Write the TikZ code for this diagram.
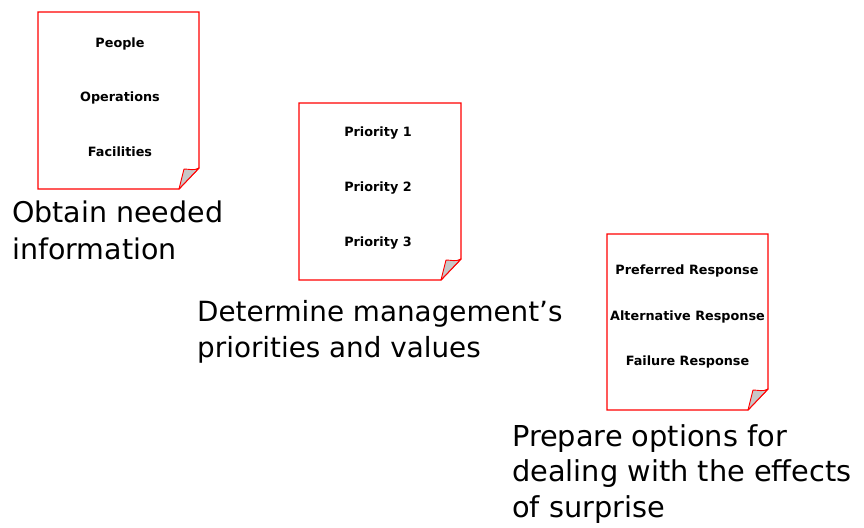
\documentclass[tikz,border=0pt]{standalone}
\usepackage{fontspec}
\setmainfont{DejaVu Sans}
\newcommand\pagesheet[4]{%
  \draw[sheet] (#1,#2) -- (#3,#2) -- (#3,#4-21) -- (#3-20,#4) -- (#1,#4) -- cycle;
  \draw[flap] (#3,#4-21) .. controls (#3-5,#4-18) and (#3-10,#4-20) .. (#3-15,#4-20) -- (#3-20,#4) -- cycle;
}
\begin{document}
\begin{tikzpicture}[x=1pt,y=-1pt,
  sheet/.style={draw=red, line width=1.2pt, fill=white, line join=miter},
  flap/.style={draw=red, line width=0.9pt, fill=black!22, line join=round},
  item/.style={font=\bfseries\fontsize{12.8}{15}\selectfont, inner sep=0},
  caption/.style={font=\fontsize{28.5}{36.5}\selectfont, align=left, anchor=north west, inner sep=0}]
\useasboundingbox (0,0) rectangle (864,527);
\fill[white] (0,0) rectangle (864,527);
% sheet 1
\pagesheet{38}{12}{199}{189}
\node[item] (people) at (120,44) {People};
\node[item] (operations) at (120,98) {Operations};
\node[item] (facilities) at (120,152) {Facilities};
% sheet 2
\pagesheet{299}{103}{461}{280}
\node[item] (p1) at (378,133) {Priority 1};
\node[item] (p2) at (378,188) {Priority 2};
\node[item] (p3) at (378,243) {Priority 3};
% sheet 3
\pagesheet{607}{234}{768}{410}
\node[item] (pref) at (687,271) {Preferred Response};
\node[item] (alt) at (687.5,317) {Alternative Response};
\node[item] (fail) at (687.5,362) {Failure Response};
% captions
\node[caption] (cap1) at (12,201) {Obtain needed\\information};
\node[caption, font=\fontsize{27.8}{36.5}\selectfont] (cap2) at (197,300) {Determine management’s\\priorities and values};
\node[caption, font=\fontsize{28.8}{35.5}\selectfont] (cap3) at (512,424) {Prepare options for\\dealing with the effects\\of surprise};
\end{tikzpicture}
\end{document}
